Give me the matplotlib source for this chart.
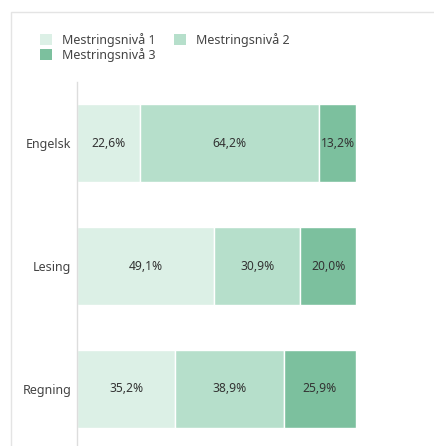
import numpy as np
import matplotlib.pyplot as plt
from matplotlib.patches import Rectangle, Patch

plt.rcParams['font.family'] = ['Noto Sans', 'DejaVu Sans']

categories = ["Engelsk", "Lesing", "Regning"]
series_names = ["Mestringsnivå 1", "Mestringsnivå 2", "Mestringsnivå 3"]
niva1 = [22.6, 49.1, 35.2]
niva2 = [64.2, 30.9, 38.9]
niva3 = [13.2, 20.0, 25.9]
colors = ["#dcf0e6", "#b6dfcb", "#7cc09e"]

fig = plt.figure(figsize=(4.35, 4.46), dpi=100)

# card border behind everything
card = Rectangle((11 / 435, -0.1), 1.2, 1 - 12 / 446 + 0.1, transform=fig.transFigure,
                 facecolor="white", edgecolor="#e4e4e4", linewidth=1.0, zorder=-10)
fig.patches.append(card)

ax = fig.add_axes([77 / 435, 1 - 450 / 446, 279 / 435, (450 - 82) / 446])
ax.patch.set_alpha(0)

y = np.arange(len(categories))
left = np.zeros(len(categories))
for name, vals, c in zip(series_names, [niva1, niva2, niva3], colors):
    vals = np.array(vals)
    ax.barh(y, vals, left=left, height=0.635, color=c, edgecolor="white",
            linewidth=1.0)
    for yi, l, v in zip(y, left, vals):
        ax.text(l + v / 2, yi, f"{v:.1f}%".replace(".", ","), ha="center", va="center",
                fontsize=8.7, color="#333333")
    left += vals

ax.set_xlim(0, 100)
ax.set_ylim(len(categories) - 0.5, -0.5)
ax.set_yticks(y)
ax.set_yticklabels(categories, fontsize=9, color="#444444")
ax.tick_params(axis="y", length=0, pad=4)
ax.set_xticks([])
for s in ["top", "right", "bottom"]:
    ax.spines[s].set_visible(False)
ax.spines["left"].set_color("#dddddd")
ax.spines["left"].set_linewidth(1.0)

handles = [Patch(facecolor=c, edgecolor="none") for c in colors]
# row-wise order: 1, 2 on first row, 3 on second
order = [0, 2, 1]
fig.legend([handles[i] for i in order], [series_names[i] for i in order],
           loc="upper left", bbox_to_anchor=(35 / 435, 1 - 28 / 446),
           ncol=2, frameon=False, fontsize=9, handlelength=1.0, handleheight=1.0,
           handletextpad=0.75, columnspacing=1.45, labelspacing=0.05, borderaxespad=0,
           labelcolor="#444444")

fig.savefig("out.png", dpi=100)
